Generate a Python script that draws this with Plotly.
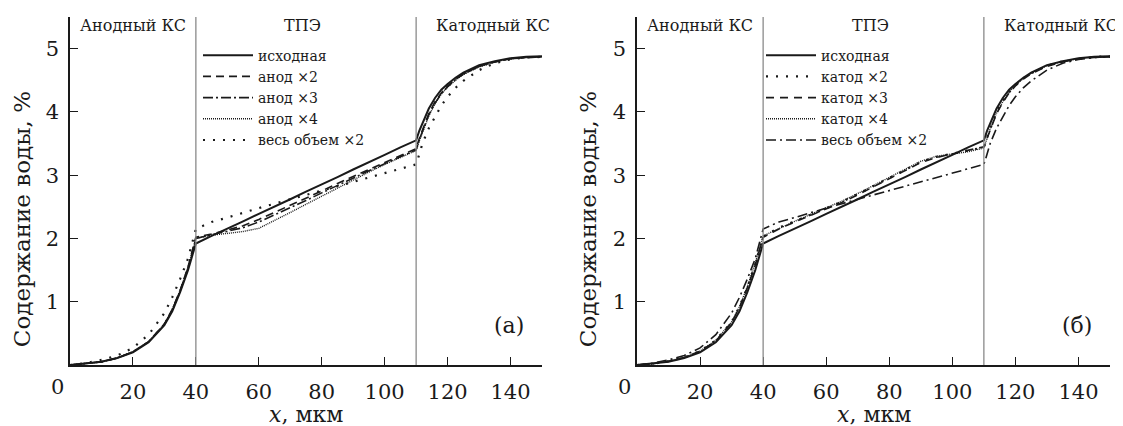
import plotly.graph_objects as go

# ---------------- data ----------------
x_um = [0, 5, 10, 15, 20, 25, 30, 32.5, 35, 37.5, 40,
        45, 50, 55, 60, 65, 70, 75, 80, 85, 90, 95, 100, 105, 110,
        111, 112, 114, 116, 118, 120, 122.5, 125, 130, 135, 140, 145, 150]

base = [0.0, 0.02, 0.05, 0.11, 0.2, 0.36, 0.63, 0.85, 1.15, 1.5, 1.92,
        2.04, 2.15, 2.27, 2.39, 2.50, 2.62, 2.74, 2.85, 2.97, 3.09, 3.20, 3.32, 3.44, 3.55,
        3.70, 3.82, 4.05, 4.22, 4.35, 4.44, 4.54, 4.62, 4.74, 4.80, 4.85, 4.87, 4.88]

anode_x2 = [0.0, 0.02, 0.05, 0.11, 0.21, 0.37, 0.65, 0.88, 1.18, 1.55, 2.02,
            2.07, 2.13, 2.20, 2.30, 2.41, 2.52, 2.64, 2.75, 2.87, 2.98, 3.09, 3.20, 3.31, 3.42,
            3.58, 3.72, 3.97, 4.16, 4.30, 4.41, 4.52, 4.60, 4.72, 4.79, 4.84, 4.86, 4.87]

anode_x3 = [0.0, 0.02, 0.05, 0.11, 0.21, 0.37, 0.64, 0.87, 1.17, 1.53, 2.00,
            2.06, 2.11, 2.17, 2.26, 2.37, 2.48, 2.60, 2.72, 2.84, 2.96, 3.07, 3.18, 3.29, 3.40,
            3.56, 3.70, 3.95, 4.14, 4.29, 4.40, 4.51, 4.60, 4.72, 4.79, 4.84, 4.86, 4.87]

anode_x4 = [0.0, 0.02, 0.05, 0.11, 0.21, 0.37, 0.65, 0.88, 1.18, 1.54, 2.00,
            2.05, 2.08, 2.11, 2.16, 2.28, 2.41, 2.54, 2.67, 2.80, 2.93, 3.05, 3.17, 3.28, 3.39,
            3.54, 3.68, 3.93, 4.13, 4.28, 4.39, 4.50, 4.59, 4.71, 4.79, 4.84, 4.86, 4.87]

volume_x2 = [0.0, 0.03, 0.08, 0.15, 0.27, 0.48, 0.82, 1.07, 1.36, 1.68, 2.15,
             2.26, 2.33, 2.41, 2.48, 2.55, 2.62, 2.69, 2.76, 2.83, 2.90, 2.97, 3.04, 3.11, 3.17,
             3.33, 3.50, 3.74, 3.93, 4.10, 4.24, 4.38, 4.49, 4.66, 4.77, 4.83, 4.86, 4.87]

cathode_x2 = [0.0, 0.02, 0.06, 0.12, 0.22, 0.39, 0.68, 0.92, 1.23, 1.60, 2.03,
              2.17, 2.27, 2.37, 2.47, 2.58, 2.70, 2.83, 2.96, 3.09, 3.21, 3.29, 3.34, 3.38, 3.44,
              3.60, 3.74, 3.99, 4.17, 4.31, 4.42, 4.53, 4.61, 4.73, 4.80, 4.84, 4.87, 4.88]

cathode_x3 = [0.0, 0.02, 0.06, 0.12, 0.22, 0.38, 0.67, 0.91, 1.22, 1.58, 2.02,
              2.15, 2.26, 2.36, 2.46, 2.57, 2.69, 2.82, 2.95, 3.08, 3.20, 3.28, 3.34, 3.39, 3.45,
              3.58, 3.72, 3.97, 4.15, 4.30, 4.41, 4.52, 4.60, 4.72, 4.79, 4.84, 4.86, 4.87]

cathode_x4 = [0.0, 0.02, 0.06, 0.12, 0.22, 0.39, 0.68, 0.92, 1.24, 1.61, 2.04,
              2.16, 2.27, 2.38, 2.48, 2.59, 2.71, 2.84, 2.97, 3.10, 3.22, 3.30, 3.34, 3.37, 3.43,
              3.59, 3.73, 3.98, 4.16, 4.31, 4.42, 4.53, 4.61, 4.73, 4.80, 4.84, 4.87, 4.88]

x_ticks = [20, 40, 60, 80, 100, 120, 140]
y_ticks = [1, 2, 3, 4, 5]
boundaries = [40, 110]
region_names = ["Анодный КС", "ТПЭ", "Катодный КС"]
region_x = [20, 74, 134.5]
panel_tags = ["(а)", "(б)"]

# ---------------- figure ----------------
# the page body has an 8px margin, so figure pixels = page pixels - 8
W, H = 1115, 418
OFF = 8
FONT = "DejaVu Serif"
INK = "#1a1a1a"


def px(page_x):
    return (page_x - OFF) / W


def py(page_y):
    # paper y for a page y (plot area from page y 16.7 to 365)
    return (365 - page_y) / 348.3


fig = go.Figure()

left_series = [
    ("исходная", base, "solid", 2.0),
    ("анод ×2", anode_x2, "8px,5px", 1.6),
    ("анод ×3", anode_x3, "10px,3px,2px,3px", 1.6),
    ("анод ×4", anode_x4, "1px,1px", 1.4),
    ("весь объем ×2", volume_x2, "2px,8px", 2.2),
]
right_series = [
    ("исходная", base, "solid", 2.0),
    ("катод ×2", cathode_x2, "2px,8px", 2.2),
    ("катод ×3", cathode_x3, "8px,6px", 1.6),
    ("катод ×4", cathode_x4, "1px,1px", 1.4),
    ("весь объем ×2", volume_x2, "10px,4px,2px,4px", 1.6),
]

for name, ys, dash, w in left_series:
    fig.add_trace(go.Scatter(x=x_um, y=ys, mode="lines", name=name,
                             line=dict(color=INK, width=w, dash=dash),
                             xaxis="x", yaxis="y", legend="legend"))
for name, ys, dash, w in right_series:
    fig.add_trace(go.Scatter(x=x_um, y=ys, mode="lines", name=name,
                             line=dict(color=INK, width=w, dash=dash),
                             xaxis="x2", yaxis="y2", legend="legend2"))

TICK_SIZE = 21
ax_common = dict(range=[0, 150], tickvals=x_ticks, ticks="inside", ticklen=8,
                 tickwidth=1.3, tickcolor=INK, showline=True, linecolor=INK,
                 linewidth=1.5, showgrid=False, zeroline=False,
                 tickfont=dict(family=FONT, size=TICK_SIZE, color=INK),
                 ticklabelstandoff=7)
ay_common = dict(range=[0, 5.5], tickvals=y_ticks, ticks="inside", ticklen=8,
                 tickwidth=1.3, tickcolor=INK, showline=True, linecolor=INK,
                 linewidth=1.5, showgrid=False, zeroline=False,
                 tickfont=dict(family=FONT, size=TICK_SIZE, color=INK),
                 ticklabelstandoff=5)

legend_common = dict(bgcolor="rgba(0,0,0,0)", borderwidth=0,
                     font=dict(family=FONT, size=14, color=INK),
                     itemwidth=50, xanchor="left", yanchor="top",
                     tracegroupgap=0)

fig.update_layout(
    width=W, height=H,
    margin=dict(l=0, r=0, t=9, b=61),
    paper_bgcolor="white", plot_bgcolor="white",
    font=dict(family=FONT, color=INK),
    xaxis=dict(domain=[px(70), px(542)], anchor="y", **ax_common),
    yaxis=dict(domain=[0, 1], anchor="x", **ay_common),
    xaxis2=dict(domain=[px(637), px(1110)], anchor="y2", **ax_common),
    yaxis2=dict(domain=[0, 1], anchor="x2", **ay_common),
    legend=dict(x=px(198), y=0.935, **legend_common),
    legend2=dict(x=px(761), y=0.935, **legend_common),
    showlegend=True,
)

shapes = []
for xa, ya in (("x", "y"), ("x2", "y2")):
    for b in boundaries:
        shapes.append(dict(type="line", xref=xa, yref=ya, x0=b, x1=b, y0=0, y1=5.5,
                           line=dict(color="#8a8a8a", width=1.3)))
fig.update_layout(shapes=shapes)

ann = []
for i, (xa, ya) in enumerate((("x", "y"), ("x2", "y2"))):
    for nm, rx in zip(region_names, region_x):
        ann.append(dict(text=nm, xref=xa, yref="paper", x=rx, y=py(25),
                        showarrow=False, xanchor="center", yanchor="middle",
                        font=dict(family=FONT, size=16, color=INK)))
    ann.append(dict(text=panel_tags[i], xref=xa, yref="paper", x=145, y=py(325),
                    showarrow=False, xanchor="right", yanchor="middle",
                    font=dict(family=FONT, size=22, color=INK)))
    ann.append(dict(text="0", xref=xa, yref="paper", x=0, y=0, xshift=-13, yshift=-22,
                    showarrow=False, xanchor="center", yanchor="middle",
                    font=dict(family=FONT, size=TICK_SIZE, color=INK)))
    ann.append(dict(text="<i>x</i>, мкм", xref=xa, yref="paper", x=75, y=py(415),
                    showarrow=False, xanchor="center", yanchor="middle",
                    font=dict(family=FONT, size=22, color=INK)))

for title_x in (22, 588):
    ann.append(dict(text="Содержание воды, %", xref="paper", yref="paper",
                    x=px(title_x), y=py(219), textangle=-90, showarrow=False,
                    xanchor="center", yanchor="middle",
                    font=dict(family=FONT, size=23, color=INK)))
fig.update_layout(annotations=ann)

fig.write_html("out.html")
